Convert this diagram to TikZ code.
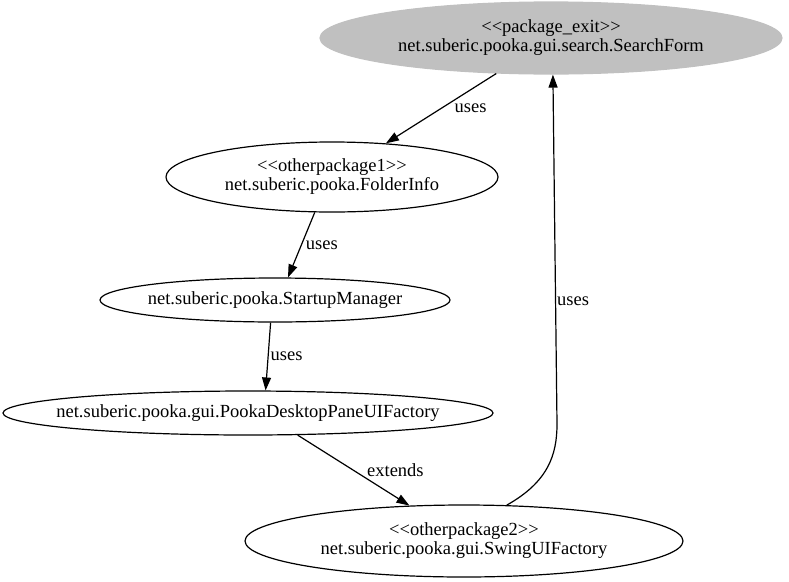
\documentclass[tikz,border=0pt]{standalone}
\usepackage{fontspec}
\setmainfont{Liberation Serif}
\usetikzlibrary{arrows.meta,shapes.geometric}
\definecolor{exitgray}{HTML}{C0C0C0}
\newcommand{\stereo}[1]{<\kern0pt<#1>\kern0pt>}
\tikzset{cls/.style={ellipse,draw,inner sep=0pt,line width=1.2pt},
 txt/.style={align=center,inner sep=0pt,font=\fontsize{18.5}{19}\selectfont},
 dep/.style={-{Triangle[length=13pt,width=9pt]},line width=1.2pt},
 lbl/.style={inner sep=1pt,font=\fontsize{18.5}{19}\selectfont}}
\begin{document}
\begin{tikzpicture}[x=1pt,y=-1pt]
\useasboundingbox (0,0) rectangle (789,581);
\node[cls,draw=exitgray,fill=exitgray,minimum width=462pt,minimum height=72pt,
 label={[txt]center:\stereo{package\_exit}\\net.suberic.pooka.gui.search.SearchForm}]
 (form) at (551,38) {};
\node[cls,minimum width=332pt,minimum height=70pt,
 label={[txt]center:\stereo{otherpackage1}\\net.suberic.pooka.FolderInfo}]
 (folder) at (332,177) {};
\node[cls,minimum width=350pt,minimum height=44pt,
 label={[txt]center:net.suberic.pooka.StartupManager}]
 (startup) at (275,300) {};
\node[cls,minimum width=490pt,minimum height=44pt,
 label={[txt]center:net.suberic.pooka.gui.PookaDesktopPaneUIFactory}]
 (desktop) at (248,413) {};
\node[cls,minimum width=438pt,minimum height=72pt,
 label={[txt]center:\stereo{otherpackage2}\\net.suberic.pooka.gui.SwingUIFactory}]
 (swing) at (464,541) {};
\coordinate (bend) at (557,424);
\draw[dep] (form.213.4) -- node[lbl,right=12pt] {uses} (folder.32.7);
\draw[dep] (folder.244) -- node[lbl,right=3pt] {uses} (startup.60.5);
\draw[dep] (startup.259.7) -- node[lbl,right=1pt] {uses} (desktop.52.3);
\draw[dep] (desktop.336) -- node[lbl,right=12pt] {extends} (swing.147.8);
\draw[dep] (swing.40) .. controls (548,482) and (557,455) .. (bend)
 -- node[lbl,right=0pt,pos=0.35] {uses} (form.273);
\end{tikzpicture}
\end{document}
